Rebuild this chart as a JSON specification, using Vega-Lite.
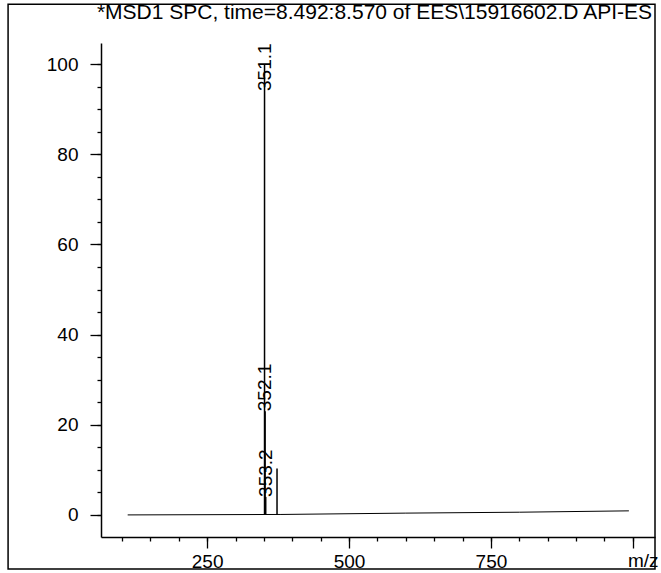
{
  "$schema": "https://vega.github.io/schema/vega-lite/v6.json",
  "width": 554,
  "height": 494,
  "autosize": {"type": "none"},
  "padding": {"left": 101, "top": 43, "right": 6, "bottom": 36},
  "background": "white",
  "config": {"view": {"stroke": null}, "font": "Liberation Sans"},
  "title": {
    "text": "*MSD1 SPC, time=8.492:8.570 of EES\\15916602.D  API-ES",
    "anchor": "end",
    "frame": "group",
    "fontSize": 21,
    "fontWeight": "normal",
    "font": "Liberation Sans",
    "color": "black",
    "baseline": "alphabetic",
    "offset": -37,
    "dx": -3
  },
  "resolve": {"axis": {"x": "independent", "y": "independent"}},
  "datasets": {
    "peaks": [
      {"mz": 351.1, "intensity": 100, "label": "351.1"},
      {"mz": 352.1, "intensity": 23, "label": "352.1"},
      {"mz": 353.2, "intensity": 4, "label": "353.2"},
      {"mz": 373.1, "intensity": 10.3, "label": null}
    ],
    "baseline": [
      {"mz": 110, "intensity": 0.0},
      {"mz": 380, "intensity": 0.1},
      {"mz": 600, "intensity": 0.4},
      {"mz": 800, "intensity": 0.6},
      {"mz": 993, "intensity": 0.9}
    ]
  },
  "layer": [
    {
      "data": {"values": [{}]},
      "mark": {"type": "rect", "fillOpacity": 0, "stroke": "black", "strokeWidth": 1.5},
      "encoding": {
        "x": {"datum": -100.7, "type": "quantitative", "axis": null},
        "x2": {"datum": 1039},
        "y": {"datum": 113.3, "type": "quantitative", "axis": null},
        "y2": {"datum": -12}
      }
    },
    {
      "data": {"name": "baseline"},
      "mark": {"type": "line", "color": "black", "strokeWidth": 1},
      "encoding": {
        "x": {"field": "mz", "type": "quantitative", "axis": null},
        "y": {"field": "intensity", "type": "quantitative", "axis": null}
      }
    },
    {
      "data": {"name": "peaks"},
      "mark": {"type": "rule", "color": "black", "strokeWidth": 1.5},
      "encoding": {
        "x": {
          "field": "mz",
          "type": "quantitative",
          "scale": {"domain": [63, 1039], "nice": false, "zero": false},
          "axis": {
            "orient": "bottom",
            "title": null,
            "values": [100, 150, 200, 250, 300, 350, 400, 450, 500, 550, 600, 650, 700, 750, 800, 850, 900, 950, 1000],
            "labels": false,
            "tickSize": 4,
            "tickColor": "black",
            "tickWidth": 1.3,
            "domainColor": "black",
            "domainWidth": 1.5,
            "grid": false
          }
        },
        "y": {
          "field": "intensity",
          "type": "quantitative",
          "scale": {"domain": [-4.9, 104.7], "nice": false, "zero": false},
          "axis": {
            "orient": "left",
            "title": null,
            "values": [0, 5, 10, 15, 20, 25, 30, 35, 40, 45, 50, 55, 60, 65, 70, 75, 80, 85, 90, 95, 100],
            "labels": false,
            "tickSize": 4,
            "tickColor": "black",
            "tickWidth": 1.3,
            "domainColor": "black",
            "domainWidth": 1.5,
            "grid": false
          }
        },
        "y2": {"datum": 0}
      }
    },
    {
      "data": {"name": "peaks"},
      "transform": [{"filter": "datum.label != null && datum.intensity < 100"}],
      "mark": {"type": "text", "angle": 270, "align": "left", "baseline": "middle", "fontSize": 19, "font": "Liberation Sans", "color": "black"},
      "encoding": {
        "x": {
          "field": "mz",
          "type": "quantitative",
          "axis": {
            "orient": "bottom",
            "title": "m/z",
            "titleFont": "Liberation Sans",
            "titleFontSize": 19,
            "titleFontWeight": "normal",
            "titleColor": "black",
            "titleX": 557,
            "titleY": 29,
            "titleAlign": "right",
            "titleBaseline": "alphabetic",
            "values": [250, 500, 750, 1000],
            "labelExpr": "datum.value < 900 ? datum.label : ''",
            "tickSize": 11,
            "tickColor": "black",
            "tickWidth": 1.3,
            "domain": false,
            "labelFont": "Liberation Sans",
            "labelFontSize": 19,
            "labelColor": "black",
            "labelPadding": 4,
            "labelFlush": false,
            "labelOverlap": false,
            "grid": false
          }
        },
        "y": {
          "field": "intensity",
          "type": "quantitative",
          "axis": {
            "orient": "left",
            "title": null,
            "values": [0, 20, 40, 60, 80, 100],
            "tickSize": 11,
            "tickColor": "black",
            "tickWidth": 1.3,
            "domain": false,
            "labelFont": "Liberation Sans",
            "labelFontSize": 19,
            "labelColor": "black",
            "labelPadding": 12,
            "labelOverlap": false,
            "labelFlush": false,
            "grid": false
          }
        },
        "text": {"field": "label"}
      }
    },
    {
      "data": {"name": "peaks"},
      "transform": [{"filter": "datum.intensity >= 100"}],
      "mark": {"type": "text", "angle": 270, "align": "center", "baseline": "middle", "fontSize": 19, "font": "Liberation Sans", "color": "black", "dx": -3},
      "encoding": {
        "x": {"field": "mz", "type": "quantitative", "axis": null},
        "y": {"field": "intensity", "type": "quantitative", "axis": null},
        "text": {"field": "label"}
      }
    }
  ]
}
